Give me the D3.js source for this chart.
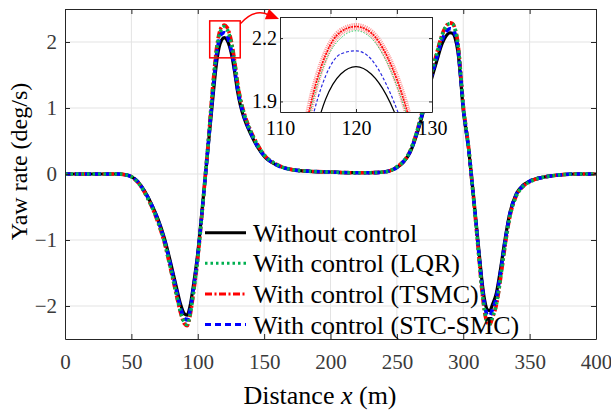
<!DOCTYPE html>
<html>
<head>
<meta charset="utf-8">
<script src="https://cdn.jsdelivr.net/npm/d3@7"></script>
<style>
  body { margin: 0; background: #fff; }
  svg { display: block; }
</style>
</head>
<body>
<svg id="chart" width="611" height="411" font-family="'Liberation Serif', 'Times New Roman', Tinos, 'Nimbus Roman', 'DejaVu Serif', serif"></svg>
<script>
// Longitudinal distance along the manoeuvre (m)
const distance = [0, 20, 40, 45, 50, 55, 60, 65, 70, 75,
  80, 84, 87, 90, 92, 94, 97, 100, 103, 106,
  108, 110, 112, 114, 116, 118, 120, 122, 124, 126,
  128, 130, 132, 135, 140, 145, 150, 160, 170, 185,
  200, 215, 230, 240, 245, 250, 255, 260, 265, 270,
  275, 280, 284, 287, 290, 292, 294, 296, 298, 300,
  302, 304, 306, 308, 310, 312, 314, 316, 318, 320,
  322, 325, 328, 331, 335, 340, 345, 350, 360, 370,
  385, 400];

// Yaw rate (deg/s) for each case
const withoutControl = [0, 0, 0, -0.01, -0.04, -0.12, -0.26, -0.45, -0.68, -0.98,
  -1.38, -1.72, -1.97, -2.12, -2.14, -2.02, -1.65, -1.2, -0.6, 0.02,
  0.45, 0.86, 1.28, 1.66, 1.91, 2.03, 2.065, 2.03, 1.93, 1.76,
  1.52, 1.25, 1.05, 0.84, 0.6, 0.41, 0.27, 0.13, 0.07, 0.04,
  0.03, 0.02, 0.02, 0.03, 0.05, 0.1, 0.18, 0.33, 0.6, 0.95,
  1.36, 1.71, 1.97, 2.09, 2.14, 2.13, 2.05, 1.85, 1.45, 0.97,
  0.67, 0.38, 0.0, -0.39, -0.79, -1.2, -1.6, -1.9, -2.05, -2.07,
  -1.98, -1.8, -1.45, -1.05, -0.6, -0.3, -0.17, -0.11, -0.05, -0.02,
  0, 0];

const withLQR = [0, 0, 0, -0.01, -0.04, -0.13, -0.28, -0.48, -0.72, -1.04,
  -1.47, -1.83, -2.09, -2.25, -2.28, -2.16, -1.76, -1.28, -0.64, 0.04,
  0.49, 1.0, 1.45, 1.85, 2.09, 2.2, 2.235, 2.2, 2.09, 1.91,
  1.66, 1.36, 1.14, 0.91, 0.64, 0.44, 0.29, 0.14, 0.07, 0.04,
  0.03, 0.02, 0.02, 0.03, 0.05, 0.11, 0.19, 0.35, 0.64, 1.01,
  1.45, 1.82, 2.1, 2.23, 2.28, 2.27, 2.18, 1.97, 1.54, 1.03,
  0.71, 0.41, 0.0, -0.42, -0.85, -1.3, -1.74, -2.06, -2.24, -2.27,
  -2.17, -1.97, -1.59, -1.15, -0.66, -0.33, -0.19, -0.12, -0.05, -0.02,
  0, 0];

const withTSMC = [0, 0, 0, -0.01, -0.04, -0.13, -0.28, -0.48, -0.73, -1.05,
  -1.48, -1.84, -2.1, -2.27, -2.3, -2.17, -1.77, -1.29, -0.65, 0.04,
  0.5, 1.02, 1.48, 1.88, 2.12, 2.23, 2.255, 2.225, 2.12, 1.94,
  1.68, 1.38, 1.15, 0.92, 0.65, 0.45, 0.29, 0.14, 0.07, 0.04,
  0.03, 0.02, 0.02, 0.03, 0.05, 0.11, 0.19, 0.35, 0.64, 1.02,
  1.46, 1.83, 2.11, 2.24, 2.29, 2.28, 2.19, 1.98, 1.55, 1.04,
  0.72, 0.41, 0.0, -0.42, -0.86, -1.31, -1.75, -2.08, -2.25, -2.28,
  -2.18, -1.98, -1.6, -1.16, -0.66, -0.33, -0.19, -0.12, -0.05, -0.02,
  0, 0];

const withSTCSMC = [0, 0, 0, -0.01, -0.04, -0.12, -0.27, -0.46, -0.7, -1.01,
  -1.42, -1.77, -2.03, -2.19, -2.21, -2.09, -1.7, -1.24, -0.62, 0.03,
  0.48, 0.93, 1.38, 1.78, 2.02, 2.125, 2.14, 2.1, 1.98, 1.8,
  1.56, 1.29, 1.09, 0.87, 0.62, 0.42, 0.28, 0.13, 0.07, 0.04,
  0.03, 0.02, 0.02, 0.03, 0.05, 0.1, 0.19, 0.34, 0.62, 0.98,
  1.4, 1.76, 2.03, 2.15, 2.2, 2.19, 2.11, 1.91, 1.49, 1.0,
  0.69, 0.39, 0.0, -0.4, -0.82, -1.25, -1.66, -1.97, -2.13, -2.15,
  -2.05, -1.87, -1.5, -1.09, -0.62, -0.31, -0.18, -0.11, -0.05, -0.02,
  0, 0];

const legendLabels = ["Without control", "With control (LQR)", "With control (TSMC)", "With control (STC-SMC)"];
const xTicks = [0, 50, 100, 150, 200, 250, 300, 350, 400];
const yTicks = [-2, -1, 0, 1, 2];
const zoomXTicks = [110, 120, 130];
const zoomYTicks = [1.9, 2.2];
// Region of the first peak that is magnified in the inset
const zoomBoxX = [109, 132];
const zoomBoxY = [1.76, 2.32];

const seriesData = [withoutControl, withLQR, withTSMC, withSTCSMC];
const styles = [
  { color: "#000000", dash: null,          width: 3.2 },
  { color: "#00b050", dash: "2.5,3",       width: 3.6 },
  { color: "#ff0000", dash: "7,2.5,2,2.5", width: 3.6 },
  { color: "#0000ff", dash: "6,4",         width: 3.6 }
];
// stacking order of the curves in the main axes (dotted LQR on top)
const drawOrder = [0, 2, 3, 1];

const serif = "'Liberation Serif', 'Times New Roman', Tinos, 'Nimbus Roman', 'DejaVu Serif', serif";
const svg = d3.select("#chart");
const M = { left: 65, right: 596, top: 9, bottom: 339 };
const x = d3.scaleLinear().domain([0, 400]).range([M.left, M.right]);
const y = d3.scaleLinear().domain([-2.5, 2.5]).range([M.bottom, M.top]);
const axisColor = "#262626";
const gridColor = "#e3e3e3";
const tickColor = "#3a3a3a";

svg.append("defs").append("clipPath").attr("id", "plotClip")
  .append("rect").attr("x", M.left).attr("y", M.top)
  .attr("width", M.right - M.left).attr("height", M.bottom - M.top);

// grid
const grid = svg.append("g");
grid.selectAll(".gx").data(xTicks.slice(1, -1)).join("line")
  .attr("x1", d => x(d)).attr("x2", d => x(d))
  .attr("y1", M.top).attr("y2", M.bottom)
  .attr("stroke", gridColor).attr("stroke-width", 1);
grid.selectAll(".gy").data(yTicks).join("line")
  .attr("y1", d => y(d)).attr("y2", d => y(d))
  .attr("x1", M.left).attr("x2", M.right)
  .attr("stroke", gridColor).attr("stroke-width", 1);

// curves
const pts = arr => distance.map((d, i) => [d, arr[i]]);
const line = d3.line().x(d => x(d[0])).y(d => y(d[1])).curve(d3.curveMonotoneX);
const curves = svg.append("g").attr("clip-path", "url(#plotClip)");
drawOrder.forEach(i => {
  curves.append("path").datum(pts(seriesData[i]))
    .attr("d", line).attr("fill", "none")
    .attr("stroke", styles[i].color)
    .attr("stroke-width", styles[i].width)
    .attr("stroke-dasharray", styles[i].dash);
});

// axes (ticks point inward on all sides)
function styleAxis(g, color, size) {
  g.attr("font-family", serif);
  g.select(".domain").attr("stroke", axisColor).attr("stroke-width", 1);
  g.selectAll(".tick line").attr("stroke", axisColor);
  g.selectAll(".tick text").attr("fill", color)
    .attr("font-family", serif)
    .attr("font-size", size);
}
svg.append("g").attr("transform", `translate(0,${M.bottom})`)
  .call(d3.axisBottom(x).tickValues(xTicks).tickSizeInner(-5).tickSizeOuter(0).tickPadding(15))
  .call(g => styleAxis(g, tickColor, 21));
svg.append("g").attr("transform", `translate(0,${M.top})`)
  .call(d3.axisTop(x).tickValues(xTicks).tickSizeInner(-5).tickSizeOuter(0).tickFormat(""))
  .call(g => styleAxis(g, tickColor, 21));
svg.append("g").attr("transform", `translate(${M.left},0)`)
  .call(d3.axisLeft(y).tickValues(yTicks).tickSizeInner(-5).tickSizeOuter(0).tickPadding(8).tickFormat(d3.format("d")))
  .call(g => styleAxis(g, tickColor, 21));
svg.append("g").attr("transform", `translate(${M.right},0)`)
  .call(d3.axisRight(y).tickValues(yTicks).tickSizeInner(-5).tickSizeOuter(0).tickFormat(""))
  .call(g => styleAxis(g, tickColor, 21));

// axis titles
const xTitle = svg.append("text").attr("x", 320).attr("y", 404)
  .attr("font-family", serif)
  .attr("text-anchor", "middle").attr("font-size", 26).attr("fill", "#000");
xTitle.append("tspan").text("Distance ");
xTitle.append("tspan").attr("font-style", "italic").text("x");
xTitle.append("tspan").text(" (m)");
svg.append("text").attr("transform", "translate(27,161.5) rotate(-90)")
  .attr("font-family", serif)
  .attr("text-anchor", "middle").attr("font-size", 24).attr("fill", "#000")
  .text("Yaw rate (deg/s)");

// legend
const legend = svg.append("g");
legendLabels.forEach((lab, i) => {
  const base = 241.7 + i * 30.6;
  legend.append("line").attr("x1", 205).attr("x2", 246)
    .attr("y1", base - 9).attr("y2", base - 9)
    .attr("stroke", styles[i].color).attr("stroke-width", 3)
    .attr("stroke-dasharray", styles[i].dash);
  legend.append("text").attr("x", 253).attr("y", base)
    .attr("font-family", serif)
    .attr("font-size", 26).attr("fill", "#000").text(lab);
});

// marker box around the magnified region
svg.append("rect")
  .attr("x", x(zoomBoxX[0])).attr("y", y(zoomBoxY[1]))
  .attr("width", x(zoomBoxX[1]) - x(zoomBoxX[0]))
  .attr("height", y(zoomBoxY[0]) - y(zoomBoxY[1]))
  .attr("fill", "none").attr("stroke", "#ff0000").attr("stroke-width", 1.5);

// inset
const I = { left: 280, right: 432, top: 17, bottom: 112 };
const xi = d3.scaleLinear().domain([110, 130]).range([I.left, I.right]);
const yi = d3.scaleLinear().domain([1.85, 2.3]).range([I.bottom, I.top]);
svg.select("defs").append("clipPath").attr("id", "insetClip")
  .append("rect").attr("x", I.left).attr("y", I.top)
  .attr("width", I.right - I.left).attr("height", I.bottom - I.top);
svg.append("rect").attr("x", I.left).attr("y", I.top)
  .attr("width", I.right - I.left).attr("height", I.bottom - I.top)
  .attr("fill", "#fff");
const ig = svg.append("g");
ig.selectAll(".igx").data([120]).join("line")
  .attr("x1", d => xi(d)).attr("x2", d => xi(d)).attr("y1", I.top).attr("y2", I.bottom)
  .attr("stroke", gridColor);
ig.selectAll(".igy").data(zoomYTicks).join("line")
  .attr("y1", d => yi(d)).attr("y2", d => yi(d)).attr("x1", I.left).attr("x2", I.right)
  .attr("stroke", gridColor);

const lineI = d3.line().x(d => xi(d[0])).y(d => yi(d[1])).curve(d3.curveMonotoneX);
const insetCurves = svg.append("g").attr("clip-path", "url(#insetClip)");
// TSMC shows chattering: drawn as a hairy band
insetCurves.append("path").datum(pts(withTSMC)).attr("d", lineI).attr("fill", "none")
  .attr("stroke", "#ff2a2a").attr("stroke-width", 7).attr("stroke-opacity", 0.5)
  .attr("stroke-dasharray", "1,1");
insetCurves.append("path").datum(pts(withTSMC)).attr("d", lineI).attr("fill", "none")
  .attr("stroke", "#ff0000").attr("stroke-width", 1.6).attr("stroke-dasharray", "2,1");
insetCurves.append("path").datum(pts(withLQR)).attr("d", lineI).attr("fill", "none")
  .attr("stroke", "#33cc66").attr("stroke-width", 1).attr("stroke-dasharray", "1.5,1.5");
insetCurves.append("path").datum(pts(withSTCSMC)).attr("d", lineI).attr("fill", "none")
  .attr("stroke", "#2a2ae0").attr("stroke-width", 1.2).attr("stroke-dasharray", "3,2");
insetCurves.append("path").datum(pts(withoutControl)).attr("d", lineI).attr("fill", "none")
  .attr("stroke", "#000").attr("stroke-width", 1.2);

svg.append("g").attr("transform", `translate(0,${I.bottom})`)
  .call(d3.axisBottom(xi).tickValues(zoomXTicks).tickSizeInner(-3).tickSizeOuter(0).tickPadding(9))
  .call(g => styleAxis(g, "#000", 20));
svg.append("g").attr("transform", `translate(0,${I.top})`)
  .call(d3.axisTop(xi).tickValues(zoomXTicks).tickSizeInner(-3).tickSizeOuter(0).tickFormat(""))
  .call(g => styleAxis(g, "#000", 20));
svg.append("g").attr("transform", `translate(${I.left},0)`)
  .call(d3.axisLeft(yi).tickValues(zoomYTicks).tickSizeInner(-3).tickSizeOuter(0).tickPadding(3).tickFormat(d3.format(".1f")))
  .call(g => styleAxis(g, "#000", 20));
svg.append("g").attr("transform", `translate(${I.right},0)`)
  .call(d3.axisRight(yi).tickValues(zoomYTicks).tickSizeInner(-3).tickSizeOuter(0).tickFormat(""))
  .call(g => styleAxis(g, "#000", 20));

// curved arrow from the marker box to the inset
const ax0 = x(zoomBoxX[1]), ay0 = y(zoomBoxY[1]) + 3;
const tip = [I.left - 1, I.top + 2];
svg.append("path")
  .attr("d", `M${ax0},${ay0} Q${ax0 + 14},${ay0 - 16} ${tip[0] - 10},${tip[1] - 4}`)
  .attr("fill", "none").attr("stroke", "#ff0000").attr("stroke-width", 1.5);
{
  const dx = 10, dy = 4, len = Math.hypot(dx, dy);
  const ux = dx / len, uy = dy / len, L = 13, W = 5.5;
  const bx = tip[0] - ux * L, by = tip[1] - uy * L;
  svg.append("path")
    .attr("d", `M${tip[0]},${tip[1]} L${bx - uy * W},${by + ux * W} L${bx + uy * W},${by - ux * W} Z`)
    .attr("fill", "#ff0000");
}
</script>
</body>
</html>
